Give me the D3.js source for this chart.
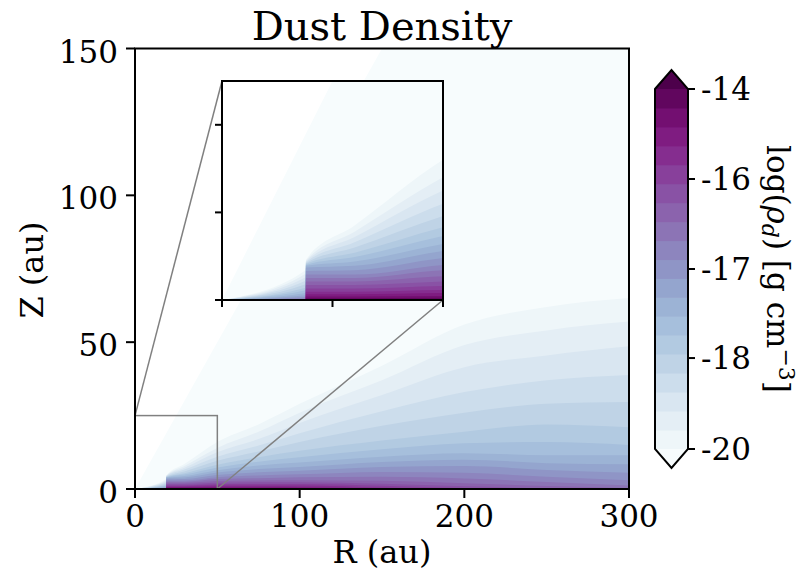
<!DOCTYPE html>
<html>
<head>
<meta charset="utf-8">
<script src="https://cdn.jsdelivr.net/npm/d3@7"></script>
<style>
  body { margin: 0; background: #fff; }
  text { font-family: "DejaVu Serif", serif; fill: #000; }
</style>
</head>
<body>
<svg id="chart" width="800" height="573"></svg>
<script>
// radial sample points (au); 18.9 -> 19 is the inner rim wall
const radii = [0, 18.9, 19, 30, 50, 75, 100, 150, 200, 250, 300];

// contour levels log(rho_d)
const levels = [-20, -19.6, -19.2, -18.8, -18.4, -17.9, -17.7, -17.5, -17.3, -17.1,
  -16.9, -16.7, -16.5, -16.3, -16.1, -15.7, -15.3, -14.85, -14.4, -14];

// height Z (au) where density falls below each level, read at each radius
const heights = [
  [0, 3.4, 4.6, 8.5, 16, 22, 29, 42, 56, 62, 65],
  [0, 3.0, 4.5, 7.8, 14, 19.5, 26, 37, 49, 54, 57],
  [0, 2.6, 4.4, 7.2, 12.5, 17, 22.5, 32, 41.5, 45.5, 48.6],
  [0, 2.2, 4.3, 6.6, 11, 14.8, 19, 26.5, 33, 37, 38.8],
  [0, 1.8, 4.2, 6.0, 9.6, 12.8, 16, 21.5, 26, 29, 29.6],
  [0, 1.4, 4.1, 5.4, 8.3, 10.8, 13, 16.5, 19.5, 22, 21],
  [0, 1.1, 4.0, 4.9, 7.3, 9.3, 10.8, 13.5, 15.6, 16, 15],
  [0, 0.8, 3.9, 4.4, 6.4, 8.0, 9.0, 11, 12.2, 11.5, 11.5],
  [0, 0.55, 3.7, 3.9, 5.6, 6.8, 7.5, 9.2, 10, 8.8, 8.4],
  [0, 0.35, 3.3, 3.4, 4.8, 5.7, 6.2, 7.5, 7.8, 6.5, 5.5],
  [0, 0.2, 2.9, 2.9, 4.0, 4.6, 5.0, 5.8, 5.5, 4.2, 3.0],
  [0, 0.1, 2.5, 2.5, 3.4, 3.7, 4.0, 4.2, 3.6, 2.4, 1.2],
  [0, 0, 2.1, 2.1, 2.7, 2.9, 3.0, 2.8, 2.0, 1.0, 0.3],
  [0, 0, 1.7, 1.7, 2.1, 2.3, 2.3, 1.8, 0.9, 0.3, 0],
  [0, 0, 1.3, 1.3, 1.6, 1.7, 1.7, 1.1, 0.3, 0, 0],
  [0, 0, 0.95, 0.95, 1.15, 1.2, 1.2, 0.5, 0, 0, 0],
  [0, 0, 0.65, 0.65, 0.8, 0.8, 0.7, 0.2, 0, 0, 0],
  [0, 0, 0.4, 0.4, 0.45, 0.45, 0.35, 0, 0, 0, 0],
  [0, 0, 0.2, 0.2, 0.25, 0.2, 0.1, 0, 0, 0, 0],
  [0, 0, 0.07, 0.07, 0.05, 0, 0, 0, 0, 0, 0]
];

const xTicks = [0, 100, 200, 300];
const yTicks = [0, 50, 100, 150];
const insetXTicks = [0, 25, 50];
const insetYTicks = [0, 10, 20];
const cbarTicks = [-14, -16, -17, -18, -20];
const mainDomain = { r: [0, 300], z: [0, 150] };
const insetDomain = { r: [0, 50], z: [0, 25] };

const svg = d3.select('#chart');
const nColors = levels.length; // under + bands + over
const color = k => d3.interpolateBuPu(k / nColors);

const TICK = 9;

// draws the filled contours inside a clipped box
function drawField(g, x, y, id) {
  g.append('clipPath').attr('id', id)
    .append('rect')
    .attr('x', x.range()[0]).attr('y', y.range()[1])
    .attr('width', x.range()[1] - x.range()[0])
    .attr('height', y.range()[0] - y.range()[1]);

  const field = g.append('g').attr('clip-path', `url(#${id})`);

  field.append('rect')
    .attr('x', x.range()[0]).attr('y', y.range()[1])
    .attr('width', x.range()[1] - x.range()[0])
    .attr('height', y.range()[0] - y.range()[1])
    .attr('fill', '#fff');

  // computational domain is the wedge below Z = R
  const rMax = mainDomain.r[1];
  field.append('path')
    .attr('d', d3.line()([[x(0), y(0)], [x(rMax), y(0)], [x(rMax), y(rMax)]]) + 'Z')
    .attr('fill', color(0));

  const area = d3.area()
    .x(d => x(d[0]))
    .y0(y(0))
    .y1(d => y(d[1]))
    .curve(d3.curveMonotoneX);

  field.selectAll('path.band')
    .data(heights)
    .join('path')
    .attr('class', 'band')
    .attr('d', row => area(radii.map((r, i) => [r, row[i]])))
    .attr('fill', (row, j) => color(j + 1));
}

function drawFrame(g, x, y) {
  g.append('rect')
    .attr('x', x.range()[0]).attr('y', y.range()[1])
    .attr('width', x.range()[1] - x.range()[0])
    .attr('height', y.range()[0] - y.range()[1])
    .attr('fill', 'none')
    .attr('stroke', '#000')
    .attr('stroke-width', 2);
}

// ---------- main axes ----------
const x = d3.scaleLinear().domain(mainDomain.r).range([135, 629]);
const y = d3.scaleLinear().domain(mainDomain.z).range([489, 48.5]);

const main = svg.append('g');
drawField(main, x, y, 'clip-main');

// zoom rectangle and connector lines
const rect = main.append('g')
  .attr('fill', 'none')
  .attr('stroke', '#808080')
  .attr('stroke-width', 1.5);
rect.append('rect')
  .attr('x', x(insetDomain.r[0])).attr('y', y(insetDomain.z[1]))
  .attr('width', x(insetDomain.r[1]) - x(insetDomain.r[0]))
  .attr('height', y(insetDomain.z[0]) - y(insetDomain.z[1]));

drawFrame(main, x, y);

const xAxis = main.append('g');
xAxis.selectAll('line').data(xTicks).join('line')
  .attr('x1', d => x(d)).attr('x2', d => x(d))
  .attr('y1', y(0)).attr('y2', y(0) + TICK)
  .attr('stroke', '#000').attr('stroke-width', 2);
xAxis.selectAll('text').data(xTicks).join('text')
  .attr('x', d => x(d)).attr('y', 527)
  .attr('text-anchor', 'middle')
  .attr('font-size', 31)
  .text(d => d);

const yAxis = main.append('g');
yAxis.selectAll('line').data(yTicks).join('line')
  .attr('x1', x(0) - TICK).attr('x2', x(0))
  .attr('y1', d => y(d)).attr('y2', d => y(d))
  .attr('stroke', '#000').attr('stroke-width', 2);
yAxis.selectAll('text').data(yTicks).join('text')
  .attr('x', 118).attr('y', d => y(d) + 14)
  .attr('text-anchor', 'end')
  .attr('font-size', 31)
  .text(d => d);

main.append('text')
  .attr('x', (x.range()[0] + x.range()[1]) / 2).attr('y', 563)
  .attr('text-anchor', 'middle')
  .attr('font-size', 32)
  .text('R (au)');

main.append('text')
  .attr('transform', 'translate(43,270) rotate(-90)')
  .attr('text-anchor', 'middle')
  .attr('font-size', 32)
  .text('Z (au)');

main.append('text')
  .attr('x', (x.range()[0] + x.range()[1]) / 2).attr('y', 40)
  .attr('text-anchor', 'middle')
  .attr('font-size', 40)
  .text('Dust Density');

// ---------- inset ----------
const xi = d3.scaleLinear().domain(insetDomain.r).range([222, 443]);
const yi = d3.scaleLinear().domain(insetDomain.z).range([300, 81]);

// connectors: rectangle upper-left -> inset upper-left, lower-right -> lower-right
rect.append('line')
  .attr('x1', x(insetDomain.r[0])).attr('y1', y(insetDomain.z[1]))
  .attr('x2', xi(insetDomain.r[0])).attr('y2', yi(insetDomain.z[1]));
rect.append('line')
  .attr('x1', x(insetDomain.r[1])).attr('y1', y(insetDomain.z[0]))
  .attr('x2', xi(insetDomain.r[1])).attr('y2', yi(insetDomain.z[0]));

const inset = svg.append('g');
drawField(inset, xi, yi, 'clip-inset');
drawFrame(inset, xi, yi);

inset.selectAll('line.xt').data(insetXTicks).join('line')
  .attr('class', 'xt')
  .attr('x1', d => xi(d)).attr('x2', d => xi(d))
  .attr('y1', yi(0)).attr('y2', yi(0) + TICK - 2)
  .attr('stroke', '#000').attr('stroke-width', 2);
inset.selectAll('line.yt').data(insetYTicks).join('line')
  .attr('class', 'yt')
  .attr('x1', xi(0) - TICK + 2).attr('x2', xi(0))
  .attr('y1', d => yi(d)).attr('y2', d => yi(d))
  .attr('stroke', '#000').attr('stroke-width', 2);

// ---------- colorbar ----------
const cbX = 655, cbW = 33, cbTop = 89, cbBottom = 449;
const nBands = levels.length - 1;
const bandH = (cbBottom - cbTop) / nBands;
const cbY = d3.scaleLinear()
  .domain(levels)
  .range(levels.map((d, i) => cbBottom - i * bandH));
const ext = bandH;

const cbar = svg.append('g');
cbar.selectAll('rect').data(d3.range(nBands)).join('rect')
  .attr('x', cbX)
  .attr('y', i => cbY(levels[i + 1]))
  .attr('width', cbW)
  .attr('height', i => cbY(levels[i]) - cbY(levels[i + 1]) + 0.5)
  .attr('fill', i => color(i + 1));

cbar.append('path')
  .attr('d', `M${cbX},${cbTop}L${cbX + cbW / 2},${cbTop - ext}L${cbX + cbW},${cbTop}Z`)
  .attr('fill', color(nColors));
cbar.append('path')
  .attr('d', `M${cbX},${cbBottom}L${cbX + cbW / 2},${cbBottom + ext}L${cbX + cbW},${cbBottom}Z`)
  .attr('fill', color(0));

cbar.append('path')
  .attr('d', `M${cbX},${cbTop}L${cbX + cbW / 2},${cbTop - ext}L${cbX + cbW},${cbTop}` +
    `L${cbX + cbW},${cbBottom}L${cbX + cbW / 2},${cbBottom + ext}L${cbX},${cbBottom}Z`)
  .attr('fill', 'none')
  .attr('stroke', '#000')
  .attr('stroke-width', 2);

cbar.selectAll('line').data(cbarTicks).join('line')
  .attr('x1', cbX + cbW).attr('x2', cbX + cbW + 7)
  .attr('y1', d => cbY(d)).attr('y2', d => cbY(d))
  .attr('stroke', '#000').attr('stroke-width', 2);
cbar.selectAll('text.tick').data(cbarTicks).join('text')
  .attr('class', 'tick')
  .attr('x', cbX + cbW + 13).attr('y', d => cbY(d) + 11)
  .attr('font-size', 31)
  .text(d => d);

const cbLabel = cbar.append('text')
  .attr('transform', 'translate(767,269) rotate(90)')
  .attr('text-anchor', 'middle')
  .attr('font-size', 31);
cbLabel.append('tspan').text('log(');
cbLabel.append('tspan').attr('font-style', 'italic').text('ρ');
cbLabel.append('tspan').attr('font-style', 'italic').attr('font-size', 22).attr('dy', 5).text('d');
cbLabel.append('tspan').attr('dy', -5).text(') [g cm');
cbLabel.append('tspan').attr('font-size', 22).attr('dy', -12).text('−3');
cbLabel.append('tspan').attr('dy', 12).text(']');
</script>
</body>
</html>
